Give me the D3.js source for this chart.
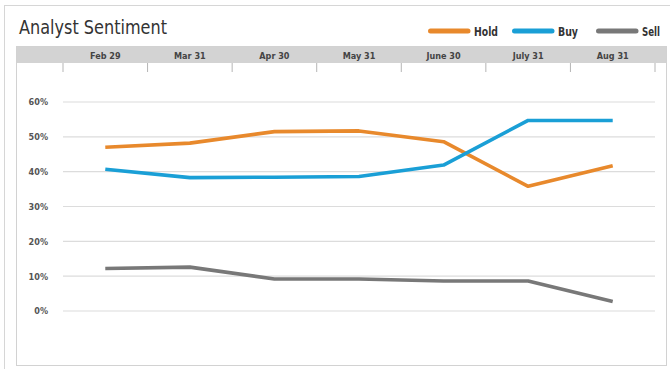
<!DOCTYPE html>
<html>
<head>
<meta charset="utf-8">
<script src="https://cdn.jsdelivr.net/npm/d3@7"></script>
<style>
  body { margin: 0; background: #fff; }
  svg { display: block; }
</style>
</head>
<body>
<div id="chart"></div>
<script>
const months = ["Feb 29", "Mar 31", "Apr 30", "May 31", "June 30", "July 31", "Aug 31"];
const hold = [47.0, 48.2, 51.5, 51.7, 48.6, 35.8, 41.7];
const buy = [40.7, 38.3, 38.4, 38.6, 41.9, 54.7, 54.7];
const sell = [12.2, 12.6, 9.2, 9.2, 8.6, 8.6, 2.7];
const yTicks = [0, 10, 20, 30, 40, 50, 60];

const seriesList = [
  { name: "Hold", values: hold, color: "#e8892c" },
  { name: "Buy", values: buy, color: "#1a9fd6" },
  { name: "Sell", values: sell, color: "#787878" },
];

const W = 670, H = 369;
const condensed = "'Liberation Sans Narrow', 'DejaVu Sans Condensed', 'Roboto', sans-serif";

const svg = d3.select("#chart").append("svg")
  .attr("width", W)
  .attr("height", H);

// outer frame
svg.append("rect")
  .attr("x", 4.5).attr("y", 5.5)
  .attr("width", W + 10).attr("height", H + 10)
  .attr("fill", "none")
  .attr("stroke", "#d6d6d6");

// inner panel
svg.append("rect")
  .attr("x", 16.5).attr("y", 46.5)
  .attr("width", 650).attr("height", 319)
  .attr("fill", "#fff")
  .attr("stroke", "#d2d2d2");

// header band
svg.append("rect")
  .attr("x", 17).attr("y", 47)
  .attr("width", 649).attr("height", 16)
  .attr("fill", "#d3d3d3");

svg.append("text")
  .attr("x", 19).attr("y", 34)
  .attr("textLength", 148)
  .attr("lengthAdjust", "spacingAndGlyphs")
  .style("font-family", condensed)
  .style("font-size", "20px")
  .style("fill", "#333")
  .text("Analyst Sentiment");

const x = d3.scaleBand().domain(months).range([63, 655]);
const y = d3.scaleLinear().domain([0, 60]).range([311, 102]);
const cx = (m) => x(m) + x.bandwidth() / 2;

// column dividers under the header
svg.append("g")
  .selectAll("line")
  .data(months.concat(["end"]))
  .enter()
  .append("line")
  .attr("x1", (d, i) => 63 + i * x.bandwidth())
  .attr("x2", (d, i) => 63 + i * x.bandwidth())
  .attr("y1", 63).attr("y2", 72)
  .attr("stroke", "#b5b5b5")
  .attr("stroke-width", 1);

svg.append("g")
  .selectAll("text")
  .data(months)
  .enter()
  .append("text")
  .attr("x", (d) => cx(d))
  .attr("y", 58.5)
  .attr("text-anchor", "middle")
  .style("font-family", condensed)
  .style("font-weight", "bold")
  .style("font-size", "9px")
  .style("fill", "#444")
  .text((d) => d);

// gridlines
svg.append("g")
  .selectAll("line")
  .data(yTicks)
  .enter()
  .append("line")
  .attr("x1", 63).attr("x2", 655)
  .attr("y1", (d) => y(d)).attr("y2", (d) => y(d))
  .attr("stroke", "#dcdcdc")
  .attr("stroke-width", 1.2);

const yAxis = svg.append("g")
  .attr("transform", "translate(48,0)")
  .call(d3.axisLeft(y).tickValues(yTicks).tickSize(0).tickFormat((d) => d + "%"));
yAxis.select(".domain").remove();
yAxis.selectAll("text")
  .attr("x", 0)
  .style("font-family", condensed)
  .style("font-weight", "bold")
  .style("font-size", "9px")
  .style("fill", "#555");

const line = d3.line()
  .x((d, i) => cx(months[i]))
  .y((d) => y(d));

svg.append("g")
  .selectAll("path")
  .data(seriesList)
  .enter()
  .append("path")
  .attr("fill", "none")
  .attr("stroke", (d) => d.color)
  .attr("stroke-width", 3.6)
  .attr("stroke-linejoin", "round")
  .attr("d", (d) => line(d.values));

// legend
const legendX = [428, 512, 596];
const legendW = [24, 20, 18];
const legend = svg.append("g")
  .selectAll("g")
  .data(seriesList)
  .enter()
  .append("g")
  .attr("transform", (d, i) => `translate(${legendX[i]},31)`);
legend.append("line")
  .attr("x1", 2.5).attr("x2", 40)
  .attr("stroke", (d) => d.color)
  .attr("stroke-width", 5)
  .attr("stroke-linecap", "round");
legend.append("text")
  .attr("x", 46).attr("y", 4.5)
  .attr("textLength", (d, i) => legendW[i])
  .attr("lengthAdjust", "spacingAndGlyphs")
  .style("font-family", condensed)
  .style("font-weight", "bold")
  .style("font-size", "12.5px")
  .style("fill", "#333")
  .text((d) => d.name);
</script>
</body>
</html>
